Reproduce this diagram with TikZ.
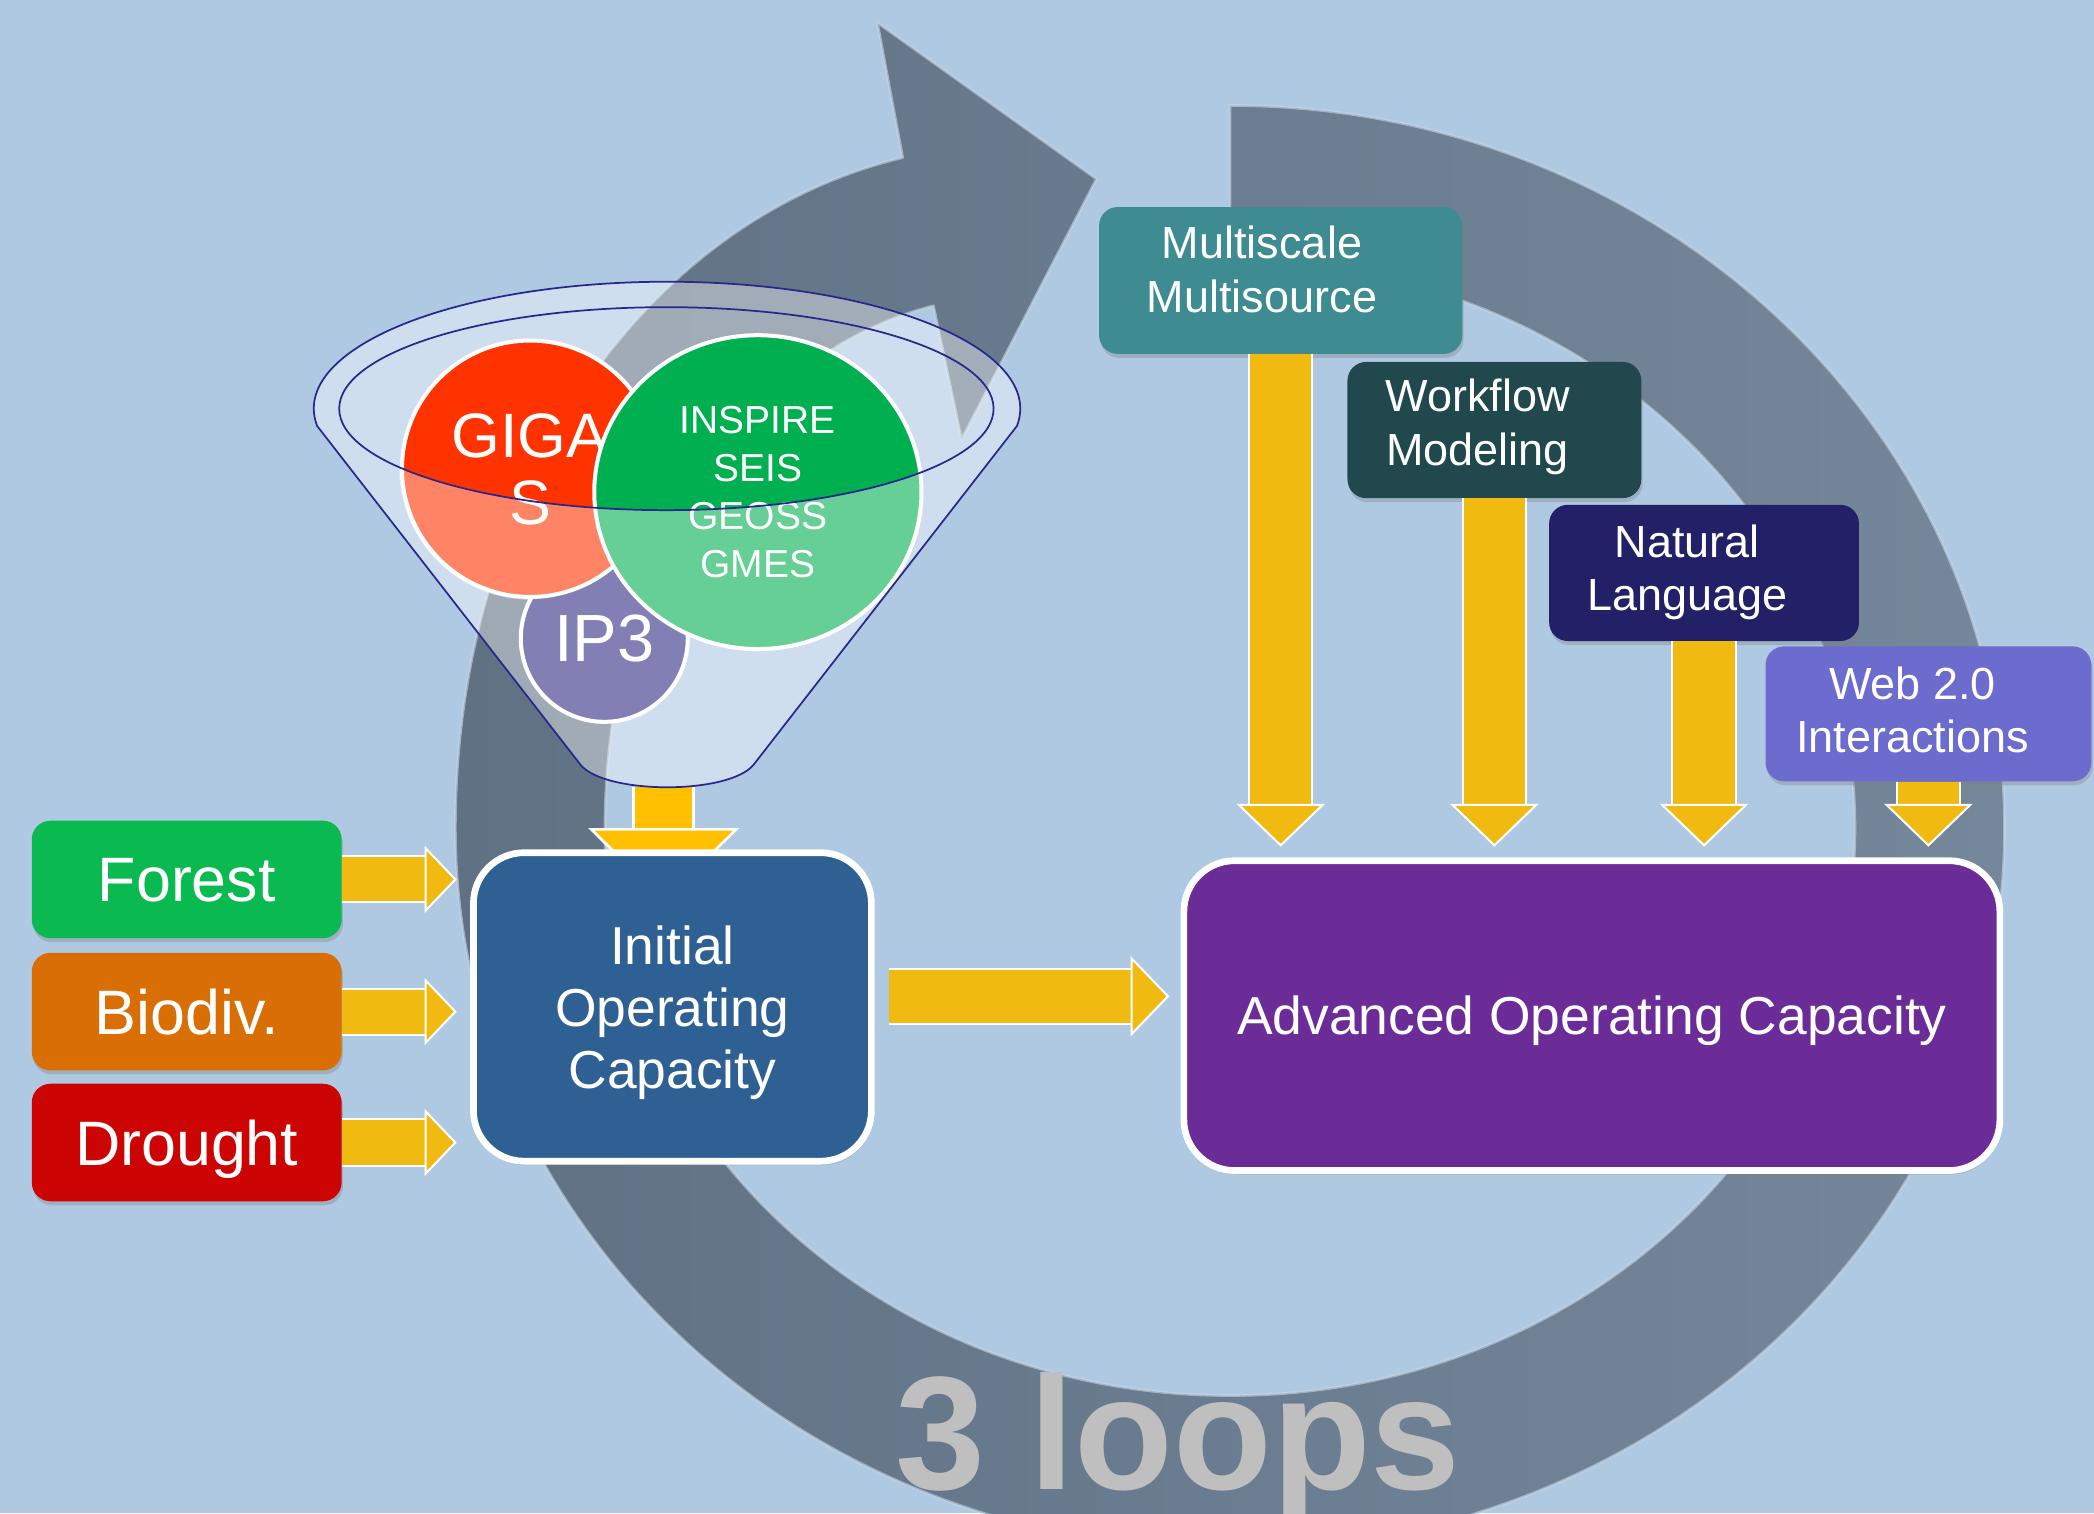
\documentclass[tikz,border=0pt]{standalone}
\usepackage{fontspec}
\setmainfont{Liberation Sans}
\usetikzlibrary{arrows.meta,shapes.geometric,shadows}

\definecolor{bgblue}{RGB}{175,201,227}
\definecolor{ringdark}{RGB}{96,113,132}
\definecolor{ringlight}{RGB}{117,136,155}
\definecolor{ringedge}{RGB}{200,215,230}
\definecolor{ygold}{RGB}{240,186,17}
\definecolor{yfunnel}{RGB}{255,192,0}
\definecolor{fgreen}{RGB}{10,185,80}
\definecolor{borange}{RGB}{216,110,4}
\definecolor{dred}{RGB}{204,4,4}
\definecolor{iocblue}{RGB}{47,96,147}
\definecolor{aocpurple}{RGB}{107,44,151}
\definecolor{msteal}{RGB}{62,139,145}
\definecolor{wfteal}{RGB}{33,73,77}
\definecolor{nlnavy}{RGB}{34,32,102}
\definecolor{webviolet}{RGB}{108,107,206}
\definecolor{gigared}{RGB}{255,51,0}
\definecolor{insgreen}{RGB}{0,175,80}
\definecolor{ipviolet}{RGB}{47,43,133}
\definecolor{funnelline}{RGB}{40,40,140}
\definecolor{loopgray}{RGB}{191,191,191}

\newcommand{\funnelsil}{(237.5,319) arc[start angle=172.1, end angle=367.9, x radius=264.5, y radius=95]
  -- (564,573) .. controls (545,595) and (454,595) .. (435,573) -- cycle}

\tikzset{
  theme/.style={fill=#1, rounded corners=14pt, text=white,
    drop shadow={opacity=0.35, shadow xshift=1pt, shadow yshift=-3pt}},
  sidebox/.style={theme=#1, minimum width=232pt, minimum height=88pt,
    font=\fontsize{47}{50}\selectfont, text depth=0pt},
  capbox/.style={draw=white, line width=5pt, fill=#1, rounded corners=38pt, text=white,
    align=center, text depth=0pt, font=\fontsize{40}{46.5}\selectfont,
    drop shadow={opacity=0.3, shadow xshift=1pt, shadow yshift=-3pt}},
  boxtext/.style={text=white, align=center, text depth=0pt, font=\fontsize{33.7}{40}\selectfont},
  bubble/.style={draw=white, line width=3pt, fill=#1, text=white, align=center,
    inner sep=0pt, text depth=0pt},
  yarrow/.style n args={3}{draw=white, line width=1.5pt, double=ygold, double distance=#1,
    -{Triangle[width=#2, length=#3, fill=ygold, line width=1.5pt]}},
  farrow/.style={draw=white, line width=2pt, double=yfunnel, double distance=43pt,
    -{Triangle[width=113pt, length=56pt, fill=yfunnel, line width=2pt]}}
}

\begin{document}
\begin{tikzpicture}[x=1pt,y=-1pt]
\useasboundingbox (0,0) rectangle (1568,1133);
\clip (0,0) rectangle (1568,1133);
\fill[bgblue] (0,0) rectangle (1568,1133);

\shadedraw[left color=ringdark, right color=ringlight, draw=ringedge, draw opacity=0.6,
  line width=2pt, line join=round]
  (921,79) arc[start angle=-90, end angle=180, x radius=580, y radius=541]
  .. controls (341,370) and (480,165) .. (676,118)
  -- (657,17) -- (821,134) -- (720,329) -- (699,229)
  .. controls (559,264) and (453,420) .. (453,620)
  arc[start angle=180, end angle=-90, x radius=468, y radius=425] -- cycle;

\node[font=\fontsize{121}{121}\selectfont\bfseries, text=loopgray, anchor=base, inner sep=0pt]
  (loops) at (882,1115) {3 loops};

\coordinate (fbot) at (497,589);
\coordinate (ftip) at (497,676);
\draw[farrow] (fbot) -- (ftip);

\fill[white, opacity=0.4] \funnelsil;
\node[bubble=ipviolet, circle, minimum size=125pt, font=\fontsize{50}{50}\selectfont] (ip3) at (452.5,478) {IP3};
\node[bubble=gigared, circle, minimum size=192pt, font=\fontsize{47}{50}\selectfont] (gigas) at (397,351) {GIGA\\S};
\node[bubble=insgreen, ellipse, minimum width=245pt, minimum height=235pt, font=\fontsize{29.2}{36}\selectfont]
  (inspire) at (567.5,368.5) {INSPIRE\\SEIS\\GEOSS\\GMES};
\begin{scope}
  \clip (gigas.center) circle[radius=98] (inspire.center) ellipse[x radius=124, y radius=119]
    (ip3.center) circle[radius=64];
  \fill[white, opacity=0.4, even odd rule] \funnelsil (499,306) ellipse[x radius=245, y radius=76];
\end{scope}
\draw[funnelline, line width=1.3pt, line join=round] \funnelsil;
\draw[funnelline, line width=1.3pt] (499,306) ellipse[x radius=245, y radius=76];

\node[sidebox=fgreen] (forest) at (139.8,658.5) {Forest};
\node[sidebox=borange] (biodiv) at (139.8,757.5) {Biodiv.};
\node[sidebox=dred] (drought) at (139.8,855.5) {Drought};
\node[capbox=iocblue, minimum width=298pt, minimum height=231pt] (ioc) at (503.5,754) {Initial\\Operating\\Capacity};
\node[capbox=aocpurple, minimum width=611pt, minimum height=232pt] (aoc) at (1192,760.5) {Advanced Operating Capacity};

\node[theme=msteal, minimum width=272pt, minimum height=110pt] (ms) at (959,210) {};
\node[theme=wfteal, minimum width=220pt, minimum height=102pt] (wf) at (1119,322) {};
\node[theme=nlnavy, minimum width=232pt, minimum height=102pt] (nl) at (1276,429) {};
\node[theme=webviolet, minimum width=244pt, minimum height=101pt] (web) at (1444,534.5) {};
\node[boxtext] (mstext) at (945,201.5) {Multiscale\\Multisource};
\node[boxtext] (wftext) at (1106.5,316) {Workflow\\Modeling};
\node[boxtext] (nltext) at (1263.5,425) {Natural\\Language};
\node[boxtext] (webtext) at (1432,531.5) {Web 2.0\\Interactions};

\draw[yarrow={33pt}{50pt}{24pt}, shorten >=10pt] (forest.east) -- (forest.east -| ioc.west);
\draw[yarrow={33pt}{50pt}{24pt}, shorten >=10pt] (biodiv.east) -- (biodiv.east -| ioc.west);
\draw[yarrow={33pt}{50pt}{24pt}, shorten >=10pt] (drought.east) -- (drought.east -| ioc.west);
\draw[yarrow={40pt}{60pt}{29pt}, shorten <=10.5pt, shorten >=8.4pt]
  ([yshift=8pt]ioc.east) -- ([yshift=8pt]ioc.east -| aoc.west);
\draw[yarrow={46pt}{66pt}{32pt}, shorten >=8pt] (ms.south) -- (ms.south |- aoc.north);
\draw[yarrow={46pt}{66pt}{32pt}, shorten >=8pt] (wf.south) -- (wf.south |- aoc.north);
\draw[yarrow={46pt}{66pt}{32pt}, shorten >=8pt] (nl.south) -- (nl.south |- aoc.north);
\draw[yarrow={46pt}{66pt}{32pt}, shorten >=8pt] (web.south) -- (web.south |- aoc.north);
\end{tikzpicture}
\end{document}
